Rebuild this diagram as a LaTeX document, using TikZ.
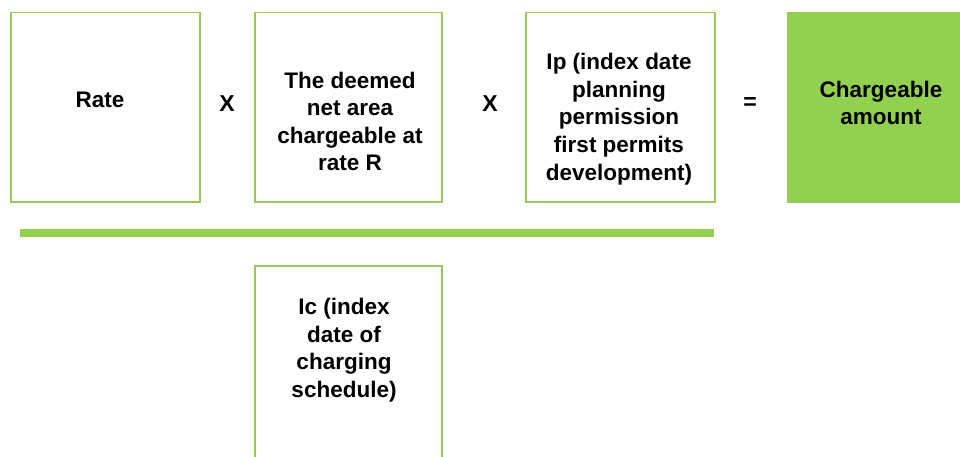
\documentclass[tikz,border=0pt]{standalone}
\usepackage{fontspec}
\setmainfont{Liberation Sans}
\definecolor{lgreen}{HTML}{92D050}
\definecolor{bgreen}{HTML}{95C95A}
\begin{document}
\begin{tikzpicture}[x=1pt,y=-1pt,
  box/.style={draw=bgreen,line width=1.5pt,fill=white},
  txt/.style={font=\fontsize{22.5}{27.5}\selectfont\bfseries,align=center,inner sep=0pt,anchor=base},
  op/.style={font=\fontsize{23}{27.5}\selectfont\bfseries,inner sep=0pt,anchor=base}]
\useasboundingbox (0,0) rectangle (960,457);
\clip (0,0) rectangle (960,457);
\node[box,minimum width=189pt,minimum height=189pt,anchor=north west] (b1) at (10,12) {};
\node[box,minimum width=187pt,minimum height=189pt,anchor=north west] (b2) at (254,12) {};
\node[box,minimum width=189pt,minimum height=189pt,anchor=north west] (b3) at (525,12) {};
\node[draw=bgreen,line width=1.5pt,fill=lgreen,minimum width=189pt,minimum height=189pt,anchor=north west] (b4) at (787,12) {};
\node[box,minimum width=187pt,minimum height=240pt,anchor=north west] (b5) at (254,265) {};
\node[fill=lgreen,inner sep=0pt,minimum width=694pt,minimum height=8pt,anchor=north west] (bar) at (20,229) {};
\node[txt] (t1) at (100,108) {Rate};
\node[txt] (t2) at (350,171) {The deemed\\net area\\chargeable at\\rate R};
\node[txt] (t3) at (619,180) {Ip (index date\\planning\\permission\\first permits\\development)};
\node[txt] (t4) at (881,125) {Chargeable\\amount};
\node[txt] (t5) at (344,397) {Ic (index\\date of\\charging\\schedule)};
\node[op] (x1) at (227,112) {X};
\node[op] (x2) at (490,112) {X};
\node[op] (eq) at (750,110) {=};
\end{tikzpicture}
\end{document}
